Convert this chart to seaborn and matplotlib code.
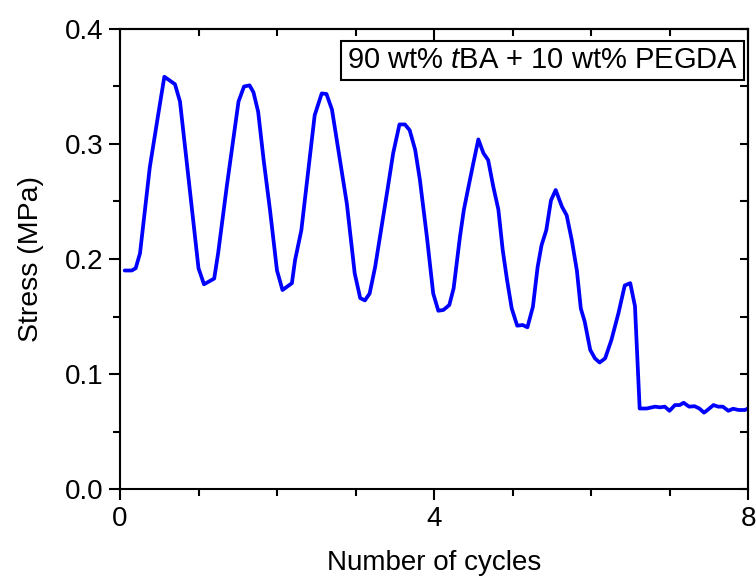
import matplotlib
matplotlib.use("Agg")
import matplotlib.pyplot as plt
import seaborn as sns
import pandas as pd
from matplotlib.ticker import MultipleLocator, NullFormatter

cycles = [0.06, 0.15, 0.20, 0.255, 0.38, 0.49, 0.565, 0.70, 0.764, 0.87,
          1.00, 1.07, 1.20, 1.25, 1.36, 1.51, 1.58, 1.65, 1.70, 1.76, 1.83, 1.91,
          2.00, 2.07, 2.19, 2.23, 2.31, 2.48, 2.57, 2.63, 2.70, 2.89, 2.99,
          3.06, 3.12, 3.18, 3.25, 3.40, 3.48, 3.56, 3.63, 3.69, 3.76, 3.82, 3.91, 3.99,
          4.055, 4.12, 4.195, 4.25, 4.33, 4.38, 4.44, 4.50, 4.565, 4.63, 4.69, 4.755,
          4.82, 4.875, 4.93, 4.99, 5.06, 5.13, 5.19, 5.26, 5.32, 5.37, 5.43, 5.49,
          5.55, 5.63, 5.69, 5.755, 5.82, 5.87, 5.92, 5.99, 6.05, 6.11, 6.18, 6.26,
          6.35, 6.43, 6.50, 6.56, 6.62, 6.71, 6.815, 6.88, 6.94, 7.00, 7.07, 7.13,
          7.18, 7.25, 7.32, 7.38, 7.44, 7.49, 7.56, 7.62, 7.68, 7.75, 7.81, 7.88,
          7.96, 8.00]
stress = [0.190, 0.190, 0.192, 0.205, 0.280, 0.327, 0.3585, 0.352, 0.337, 0.272,
          0.192, 0.178, 0.183, 0.205, 0.263, 0.337, 0.350, 0.351, 0.345, 0.328, 0.286, 0.243,
          0.190, 0.173, 0.179, 0.199, 0.225, 0.325, 0.344, 0.3435, 0.330, 0.248, 0.1875,
          0.166, 0.164, 0.170, 0.193, 0.257, 0.292, 0.317, 0.317, 0.312, 0.295, 0.269, 0.219, 0.170,
          0.155, 0.1557, 0.160, 0.1745, 0.219, 0.2426, 0.263, 0.283, 0.304, 0.292, 0.286, 0.263,
          0.243, 0.208, 0.182, 0.157, 0.142, 0.1426, 0.1406, 0.1585, 0.193, 0.212, 0.225, 0.251,
          0.260, 0.2455, 0.238, 0.2165, 0.190, 0.157, 0.1455, 0.121, 0.1136, 0.110, 0.1136, 0.1296,
          0.153, 0.177, 0.179, 0.159, 0.070, 0.070, 0.0716, 0.071, 0.0716, 0.068, 0.073, 0.073,
          0.075, 0.0716, 0.072, 0.070, 0.0664, 0.069, 0.073, 0.0716, 0.0716, 0.068, 0.0698, 0.0687,
          0.0687, 0.070]

x_ticks = [0, 4, 8]
y_ticks = [0.0, 0.1, 0.2, 0.3, 0.4]
label_text = "90 wt% $\\mathit{t}$BA + 10 wt% PEGDA"

sns.set_style("ticks")
plt.rcParams["font.family"] = ["Liberation Sans", "DejaVu Sans"]
plt.rcParams["mathtext.fontset"] = "custom"
plt.rcParams["mathtext.rm"] = "Liberation Sans"
plt.rcParams["mathtext.it"] = "Liberation Sans:italic"
plt.rcParams["text.color"] = "black"
plt.rcParams["axes.labelcolor"] = "black"
plt.rcParams["xtick.color"] = "black"
plt.rcParams["ytick.color"] = "black"

df = pd.DataFrame({"cycles": cycles, "stress": stress})

fig = plt.figure(figsize=(7.56, 5.82), dpi=100)
ax = fig.add_axes([120/756, 1-489/582, 628/756, 460/582])
sns.lineplot(data=df, x="cycles", y="stress", ax=ax, color="#0000FF",
             linewidth=2.7, sort=False, estimator=None)

ax.set_xlim(0, 8)
ax.set_ylim(0, 0.4)
ax.set_xticks(x_ticks)
ax.set_yticks(y_ticks)
ax.set_xticklabels([str(v) for v in x_ticks])
ax.set_yticklabels([f"{v:.1f}" for v in y_ticks])
ax.xaxis.set_minor_locator(MultipleLocator(1))
ax.yaxis.set_minor_locator(MultipleLocator(0.05))
ax.tick_params(axis="both", which="major", direction="out", length=8, width=1.5,
               labelsize=20, colors="black", labelcolor="black", pad=4)
ax.tick_params(axis="both", which="minor", direction="out", length=5, width=1.5)

for s in ax.spines.values():
    s.set_visible(True)
    s.set_linewidth(1.5)
    s.set_color("black")

# top and right inward ticks
top = ax.secondary_xaxis("top")
top.set_xticks(x_ticks)
top.xaxis.set_minor_locator(MultipleLocator(1))
top.xaxis.set_major_formatter(NullFormatter())
top.tick_params(which="major", direction="in", length=8, width=1.5)
top.tick_params(which="minor", direction="in", length=5, width=1.5)
top.spines["top"].set_linewidth(1.5)

right = ax.secondary_yaxis("right")
right.set_yticks(y_ticks)
right.yaxis.set_minor_locator(MultipleLocator(0.05))
right.yaxis.set_major_formatter(NullFormatter())
right.tick_params(which="both", direction="in", length=6, width=1.5)
right.spines["right"].set_linewidth(1.5)

ax.set_xlabel("Number of cycles", fontsize=20, labelpad=13, color="black")
ax.set_ylabel("Stress (MPa)", fontsize=20.5, labelpad=15, color="black")

ax.text(0.985, 0.962, label_text, transform=ax.transAxes, ha="right", va="top",
        fontsize=21, color="black",
        bbox=dict(boxstyle="square,pad=0.2", facecolor="white", edgecolor="black",
                  linewidth=1.5))

fig.savefig("out.png", dpi=100)
